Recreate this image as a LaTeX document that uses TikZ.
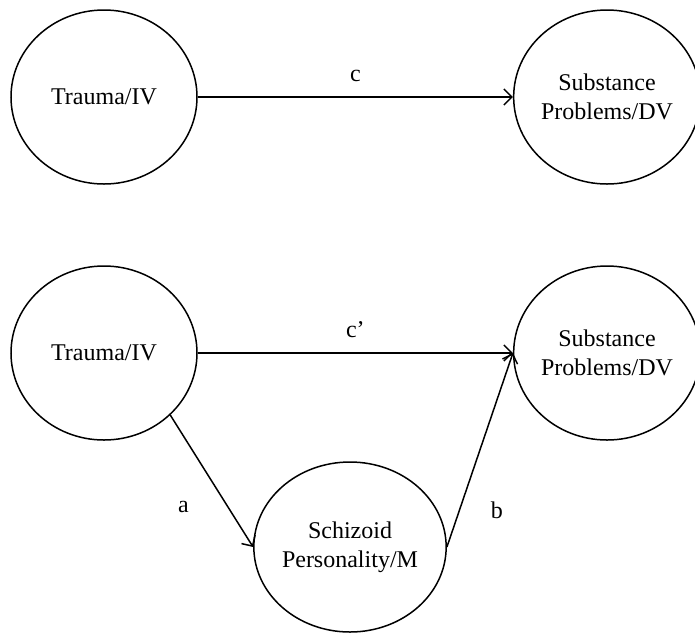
\documentclass[tikz,border=0pt]{standalone}
\usepackage{fontspec}
\setmainfont{Liberation Serif}
\usetikzlibrary{arrows.meta,shapes.geometric,positioning}

\begin{document}
\begin{tikzpicture}
    [node distance=128pt and 251.5pt,on grid,
    every node/.style={font=\fontsize{12}{14.5}\selectfont},
    var/.style={ellipse,draw,line width=0.75pt,inner sep=0pt,
    minimum width=93pt,minimum height=87pt,align=center},
    dv/.style={var,minimum width=87pt},
    effect/.style={-{Straight Barb[length=4pt,width=8pt]},line width=0.75pt}]
    % fester Rahmen wie im Original
    \useasboundingbox (0,0) rectangle (347.5pt,-316.5pt);
    % oben: totaler Effekt
    \node [var] (iv1) at (52pt,-48.5pt) {Trauma/IV};
    \node [dv] (dv1) [right=of iv1] {Substance\\Problems/DV};
    % unten: Mediationsmodell
    \node [var] (iv2) [below=of iv1] {Trauma/IV};
    \node [dv] (dv2) [right=of iv2] {Substance\\Problems/DV};
    \node [var,minimum height=85pt] (med) [below right=97pt and 123pt of iv2]
    {Schizoid\\Personality/M};
    % Pfeile
    \draw [effect] (iv1) -- node [above=4pt] {c} (dv1);
    \draw [effect] (iv2) -- node [above=4pt] {c’} (dv2);
    \draw [effect] (iv2.south east) -- node [pos=0.7,left=16pt] {a} (med.west);
    \draw [effect] (med.east) -- node [pos=0.19,right=12pt] {b} (dv2.west);
\end{tikzpicture}
\end{document}
